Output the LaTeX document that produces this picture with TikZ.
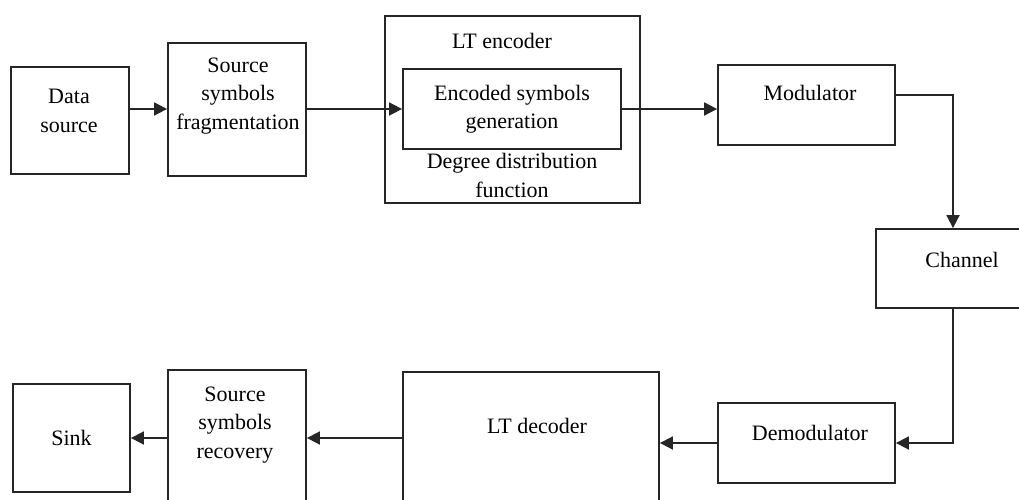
\documentclass[tikz,border=0pt]{standalone}
\usepackage{fontspec}
\setmainfont{Liberation Serif}
\usetikzlibrary{arrows.meta}
\newcommand{\boxline}{1.8pt}
\newcommand{\txtsize}{\fontsize{22}{28.5}\selectfont}

\begin{document}
\begin{tikzpicture}[x=1pt,y=-1pt]
                \useasboundingbox (0,0) rectangle (1019,500);
                \clip (0,0) rectangle (1019,500);

                \begin{scope}[every node/.style={rectangle,draw=black!85,line width=\boxline,inner sep=0pt,font=\txtsize,align=center}]
                    \node[minimum width=118pt,minimum height=107pt] (data) at (70,120.5) {};
                    \node[minimum width=138pt,minimum height=133pt] (frag) at (237,109.5) {};
                    \node[minimum width=255pt,minimum height=187pt] (enc) at (512.5,109.5) {};
                    \node[minimum width=218pt,minimum height=80pt] (gen) at (512,109) {Encoded symbols\\generation};
                    \node[minimum width=177pt,minimum height=80pt] (mod) at (806.5,105) {};
                    \node[minimum width=154pt,minimum height=79pt] (chan) at (953,268.5) {};
                    \node[minimum width=177pt,minimum height=80pt] (demod) at (806.5,443) {};
                    \node[minimum width=256pt,minimum height=150pt] (dec) at (531,447) {};
                    \node[minimum width=138pt,minimum height=150pt] (ssr) at (237,445) {};
                    \node[minimum width=117pt,minimum height=108pt] (sink) at (71.5,438) {Sink};
                \end{scope}

                \begin{scope}[every node/.style={font=\txtsize,align=center}]
                    \node (datatxt) at (69,111) {Data\\source};
                    \node (fragtxt) at (238,96) {Source\\symbols\\fragmentation};
                    \node (enctxt) at (502,41) {LT encoder};
                    \node (degtxt) at (512,175.5) {Degree distribution\\function};
                    \node (modtxt) at (810,93) {Modulator};
                    \node (chantxt) at (962,260) {Channel};
                    \node (demodtxt) at (810,433) {Demodulator};
                    \node (dectxt) at (537,426) {LT decoder};
                    \node (ssrtxt) at (235,425) {Source\\symbols\\recovery};
                \end{scope}

                \begin{scope}[>={Triangle[length=13pt,width=13pt]},
                    every edge/.style={draw=black!85,line width=\boxline}]
                    \path [->] (data.east |- gen) edge (frag.west |- gen);
                    \path [->] (frag.east |- gen) edge (gen.west);
                    \path [->] (gen.east) edge (mod.west |- gen);
                    \draw [->,draw=black!85,line width=\boxline] ([yshift=10pt]mod.east) -| (chan.north);
                    \draw [->,draw=black!85,line width=\boxline] (chan.south) |- (demod.east);
                    \path [->] (demod.west) edge (demod.west -| dec.east);
                    \path [->] (dec.west |- sink) edge (ssr.east |- sink);
                    \path [->] (ssr.west |- sink) edge (sink.east);
                \end{scope}
            \end{tikzpicture}
\end{document}
